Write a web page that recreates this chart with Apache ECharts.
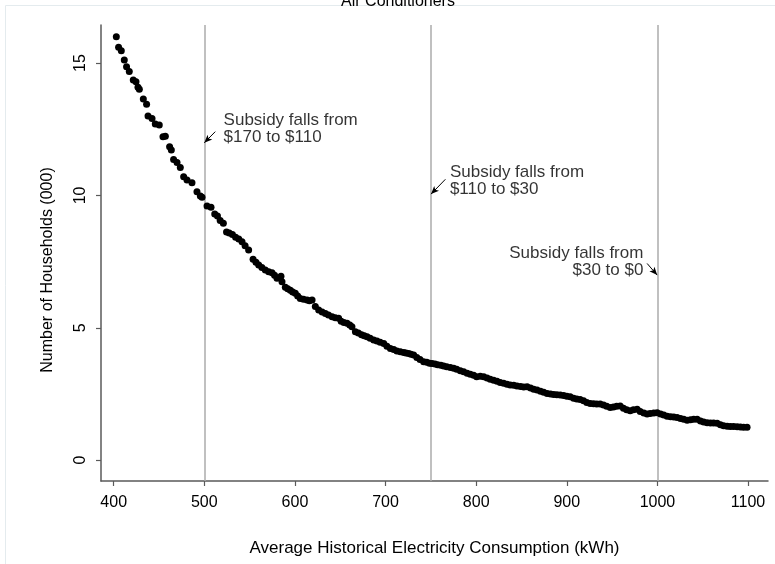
<!DOCTYPE html>
<html>
<head>
<meta charset="utf-8">
<style>
html,body{margin:0;padding:0;background:#fff;}
#chart{width:775px;height:564px;}
</style>
<script src="https://cdn.jsdelivr.net/npm/echarts@6/dist/echarts.min.js"></script>
</head>
<body>
<div id="chart"></div>
<script>
// ---- data ----
const consumption = [402.9,405.4,408.4,411.7,414.2,417.2,421.6,424.6,426.8,428.3,432.7,436.3,437.9,442.3,445.9,450.3,454.4,457.0,461.7,463.6,466.1,469.9,473.5,477.2,480.9,486.4,491.9,495.6,497.5,503.0,507.4,511.5,514.5,517.5,521.0,524.5,527.5,531.0,534.5,538.0,541.6,545.0,548.9,553.8,557.0,560.0,563.5,567.3,571.0,574.7,577.5,580.2,584.6,585.7,589.4,592.0,594.9,597.5,600.4,603.0,605.9,609.5,613.4,616.0,618.9,622.5,626.2,630.0,633.6,637.0,641.0,644.5,648.2,651.0,654.0,657.5,660.5,662.9,666.7,670.0,673.5,676.5,679.6,683.0,686.9,690.5,694.0,698.0,701.5,705.3,709.0,712.5,716.3,720.0,722.5,725.5,728.0,731.0,734.5,738.0,742.0,745.5,748.5,751.3,754.5,757.5,761.0,764.1,767.5,771.5,775.2,778.5,782.5,786.2,790.0,793.5,797.2,800.5,804.5,808.3,812.0,815.5,819.3,823.0,826.5,830.3,834.0,837.5,841.4,845.0,849.0,852.5,856.2,860.0,863.5,867.2,871.0,874.5,878.3,882.0,885.5,889.0,892.7,896.5,900.0,903.7,907.5,911.0,914.7,918.5,922.0,925.8,929.5,933.0,936.8,940.5,944.0,947.9,951.5,955.0,958.9,962.5,966.0,969.9,973.5,977.6,981.0,985.0,988.6,992.0,996.0,999.7,1003.5,1007.0,1010.7,1014.5,1018.0,1021.7,1025.5,1029.0,1032.8,1036.5,1040.0,1043.8,1047.5,1051.0,1054.8,1058.5,1062.0,1065.9,1069.5,1073.0,1076.9,1080.5,1084.0,1087.9,1091.5,1095.0,1098.9];
const households = [16.00,15.60,15.47,15.12,14.86,14.68,14.36,14.30,14.09,14.01,13.64,13.45,13.00,12.91,12.70,12.66,12.22,12.24,11.84,11.72,11.36,11.24,11.06,10.71,10.58,10.48,10.14,9.98,9.93,9.60,9.55,9.30,9.22,9.05,8.95,8.62,8.58,8.52,8.42,8.35,8.25,8.10,7.94,7.59,7.48,7.37,7.28,7.18,7.12,7.08,6.98,6.87,6.95,6.74,6.53,6.47,6.42,6.35,6.30,6.20,6.11,6.08,6.05,6.02,6.05,5.80,5.67,5.60,5.54,5.48,5.42,5.38,5.36,5.25,5.20,5.17,5.10,5.04,4.85,4.80,4.74,4.70,4.66,4.60,4.54,4.50,4.45,4.41,4.30,4.22,4.18,4.12,4.09,4.07,4.05,4.03,4.00,3.97,3.88,3.80,3.72,3.70,3.66,3.65,3.63,3.60,3.58,3.56,3.53,3.50,3.47,3.43,3.38,3.34,3.28,3.24,3.21,3.15,3.17,3.15,3.10,3.05,3.02,2.98,2.93,2.90,2.87,2.84,2.83,2.80,2.78,2.76,2.77,2.72,2.68,2.65,2.60,2.56,2.52,2.50,2.48,2.47,2.46,2.44,2.41,2.39,2.34,2.31,2.29,2.24,2.18,2.14,2.13,2.12,2.12,2.08,2.03,1.99,2.01,2.03,2.04,1.96,1.90,1.86,1.90,1.92,1.84,1.78,1.74,1.76,1.78,1.79,1.74,1.70,1.66,1.64,1.63,1.61,1.57,1.54,1.51,1.52,1.54,1.54,1.48,1.44,1.41,1.40,1.40,1.39,1.34,1.30,1.28,1.27,1.27,1.26,1.25,1.24,1.24];

const xTicks = [400, 500, 600, 700, 800, 900, 1000, 1100];
const yTicks = [0, 5, 10, 15];
const thresholds = [500, 750, 1000];

const noteText = ['Subsidy falls from\n$170 to $110', 'Subsidy falls from\n$110 to $30', 'Subsidy falls from\n$30 to $0'];
const noteX = [521.3, 771.0, 984.5];
const noteY = [12.51, 10.54, 7.48];
const notePos = ['right', 'right', 'left'];
const arrowFromX = [512.1, 766.0, 988.6];
const arrowFromY = [12.41, 10.61, 7.43];
const arrowToX = [500.0, 750.2, 999.7];
const arrowToY = [11.99, 10.05, 6.99];

// ---- chart ----
const FONT = "'Liberation Sans', Arial, sans-serif";
const chart = echarts.init(document.getElementById('chart'), null, {renderer: 'canvas'});

const points = consumption.map((x, i) => [x, households[i]]);
const notes = noteX.map((x, i) => ({
  value: [x, noteY[i]],
  label: {position: notePos[i], formatter: noteText[i]}
}));
const arrows = arrowFromX.map((x, i) => [
  {coord: [x, arrowFromY[i]], symbol: 'none'},
  {coord: [arrowToX[i], arrowToY[i]], symbol: 'arrow'}
]);

const axisColor = '#5a5a5a';

chart.setOption({
  animation: false,
  backgroundColor: '#ffffff',
  title: {
    text: 'Air Conditioners',
    left: 393,
    textAlign: 'center',
    top: -11,
    textStyle: {fontFamily: FONT, fontSize: 16, fontWeight: 'normal', color: '#000'}
  },
  graphic: [{
    type: 'rect',
    shape: {x: 5.5, y: 5.5, width: 800, height: 600},
    style: {fill: 'none', stroke: '#e4ebee', lineWidth: 1},
    silent: true
  }],
  grid: {left: 101, right: 7, top: 25, bottom: 83, containLabel: false},
  xAxis: {
    type: 'value',
    min: 386,
    max: 1122,
    name: 'Average Historical Electricity Consumption (kWh)',
    nameLocation: 'middle',
    nameGap: 59,
    nameTextStyle: {fontFamily: FONT, fontSize: 17, color: '#000'},
    axisLine: {show: true, onZero: false, lineStyle: {color: axisColor, width: 1.5}},
    axisTick: {show: true, customValues: xTicks, length: 5, lineStyle: {color: axisColor, width: 1.2}},
    axisLabel: {customValues: xTicks, margin: 14, fontFamily: FONT, fontSize: 16, color: '#000',
      formatter: v => String(v)},
    splitLine: {show: false}
  },
  yAxis: {
    type: 'value',
    min: -0.79,
    max: 16.44,
    name: 'Number of Households (000)',
    nameLocation: 'middle',
    nameGap: 45,
    nameTextStyle: {fontFamily: FONT, fontSize: 16, color: '#000', padding: [0, 34, 0, 0]},
    axisLine: {show: true, onZero: false, lineStyle: {color: axisColor, width: 1.5}},
    axisTick: {show: true, customValues: yTicks, length: 5, lineStyle: {color: axisColor, width: 1.2}},
    axisLabel: {customValues: yTicks, rotate: 90, margin: 12, fontFamily: FONT, fontSize: 16, color: '#000',
      formatter: v => String(v)},
    splitLine: {show: false}
  },
  series: [
    {
      type: 'scatter',
      data: points,
      symbol: 'circle',
      symbolSize: 7,
      itemStyle: {color: '#000', opacity: 1},
      z: 3,
      markLine: {
        silent: true,
        symbol: 'none',
        label: {show: false},
        lineStyle: {color: '#ababab', width: 1.5, type: 'solid'},
        data: thresholds.map(v => ({xAxis: v})),
        z: 1
      }
    },
    {
      type: 'scatter',
      data: notes,
      symbolSize: 0,
      silent: true,
      label: {
        show: true,
        distance: 0,
        fontFamily: FONT,
        fontSize: 17,
        lineHeight: 17,
        color: '#000'
      },
      markLine: {
        silent: true,
        symbolSize: [5, 8],
        label: {show: false},
        lineStyle: {color: '#000', width: 1, type: 'solid'},
        data: arrows
      }
    }
  ]
});
</script>
</body>
</html>
